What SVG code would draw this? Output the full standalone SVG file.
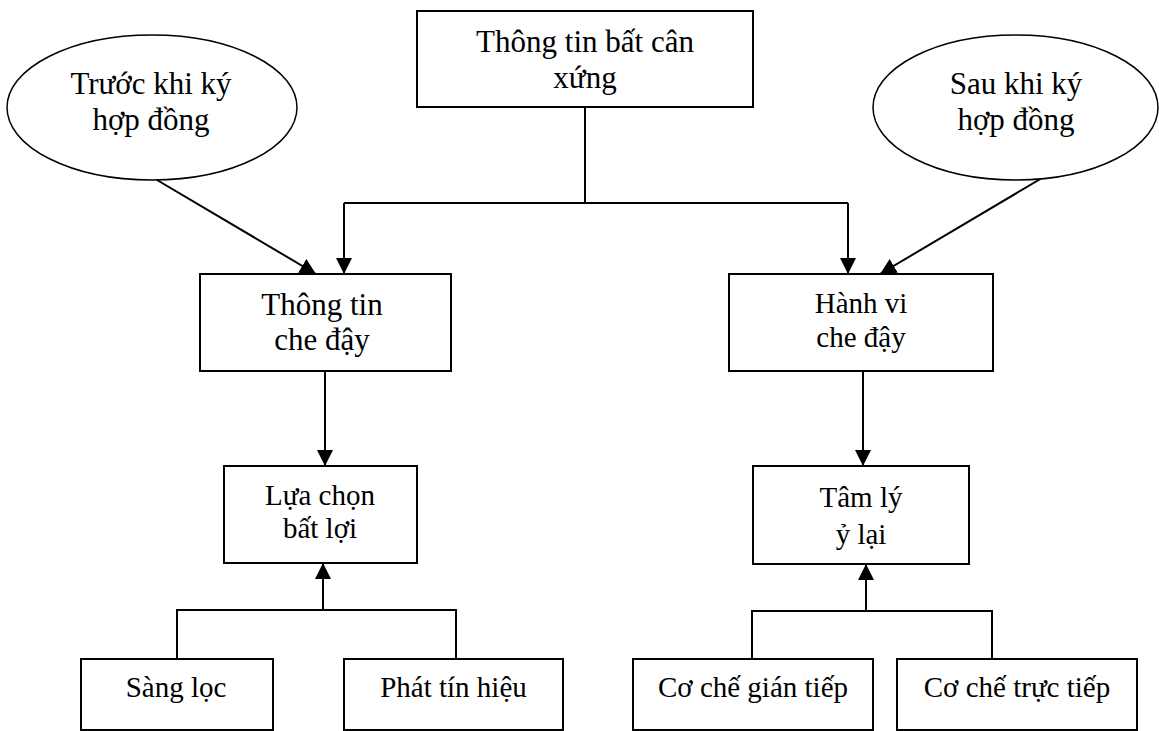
<svg xmlns="http://www.w3.org/2000/svg" width="1159" height="731" viewBox="0 0 1159 731">
<style>
.box{fill:#fff;stroke:#000;stroke-width:2}
.ell{fill:#fff;stroke:#000;stroke-width:1.5}
.t{font-family:"Liberation Serif","Times New Roman",serif;fill:#000;text-anchor:middle}
.big{font-size:31px}
.sm{font-size:29px}
.ln{fill:none;stroke:#000;stroke-width:2}
</style>
<defs>
<marker id="arr" markerUnits="userSpaceOnUse" markerWidth="16" markerHeight="16" viewBox="0 0 16 16" refX="16" refY="8" orient="auto">
<path d="M0,0 L16,8 L0,16 Z" fill="#000"/>
</marker>
</defs>
<rect width="1159" height="731" fill="#fff"/>
<g id="connectors">
<path class="ln" d="M585,107 V203 M344,203 H848"/>
<path class="ln" d="M344,203 V274" marker-end="url(#arr)"/>
<path class="ln" d="M848,203 V274" marker-end="url(#arr)"/>
<path class="ln" d="M157,180 L316,274" marker-end="url(#arr)"/>
<path class="ln" d="M1042,178 L880,274" marker-end="url(#arr)"/>
<path class="ln" d="M325,371 V466" marker-end="url(#arr)"/>
<path class="ln" d="M863,371 V466" marker-end="url(#arr)"/>
<path class="ln" d="M177,659 V610 H456 V659"/>
<path class="ln" d="M323,610 V563" marker-end="url(#arr)"/>
<path class="ln" d="M752,659 V611 H992 V659"/>
<path class="ln" d="M866,611 V564" marker-end="url(#arr)"/>
</g>
<g id="n_top">
<rect class="box" x="417" y="11" width="336" height="96"/>
<text class="t big" x="585" y="52">Thông tin bất cân</text>
<text class="t big" x="585" y="88">xứng</text>
</g>
<g id="n_truoc">
<ellipse class="ell" cx="152" cy="107.5" rx="145" ry="72.5"/>
<text class="t big" x="151" y="94">Trước khi ký</text>
<text class="t big" x="151" y="130">hợp đồng</text>
</g>
<g id="n_sau">
<ellipse class="ell" cx="1015.5" cy="107.5" rx="142.5" ry="72.5"/>
<text class="t big" x="1016" y="94">Sau khi ký</text>
<text class="t big" x="1016" y="130">hợp đồng</text>
</g>
<g id="n_ttcd">
<rect class="box" x="200" y="274" width="251" height="97"/>
<text class="t big" x="322" y="315">Thông tin</text>
<text class="t big" x="322" y="350">che đậy</text>
</g>
<g id="n_hvcd">
<rect class="box" x="729" y="274" width="264" height="97"/>
<text class="t sm" x="861" y="313">Hành vi</text>
<text class="t sm" x="861" y="347">che đậy</text>
</g>
<g id="n_lcbl">
<rect class="box" x="224" y="466" width="193" height="97"/>
<text class="t sm" x="320" y="505">Lựa chọn</text>
<text class="t sm" x="320" y="538">bất lợi</text>
</g>
<g id="n_tlyl">
<rect class="box" x="753" y="466" width="216" height="98"/>
<text class="t sm" x="861" y="507">Tâm lý</text>
<text class="t sm" x="861" y="544">ỷ lại</text>
</g>
<g id="n_sangloc">
<rect class="box" x="81" y="659" width="192" height="71"/>
<text class="t sm" x="176" y="697">Sàng lọc</text>
</g>
<g id="n_phat">
<rect class="box" x="344" y="659" width="219" height="71"/>
<text class="t sm" x="453.5" y="697">Phát tín hiệu</text>
</g>
<g id="n_gian">
<rect class="box" x="633" y="659" width="240" height="71"/>
<text class="t sm" x="753" y="697">Cơ chế gián tiếp</text>
</g>
<g id="n_truc">
<rect class="box" x="897" y="659" width="240" height="71"/>
<text class="t sm" x="1017" y="697">Cơ chế trực tiếp</text>
</g>
</svg>
